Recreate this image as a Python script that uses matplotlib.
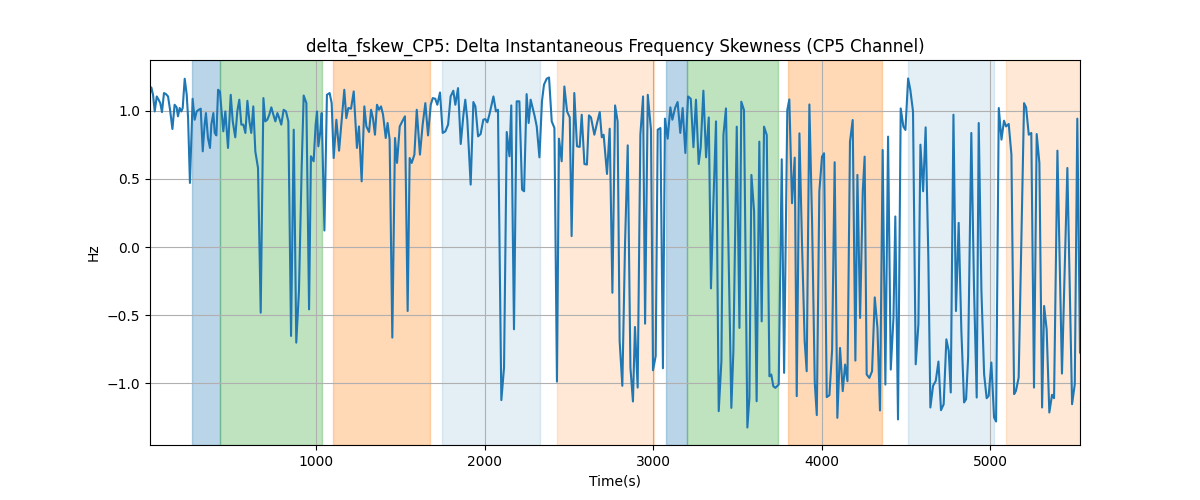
import matplotlib
matplotlib.use("Agg")
import matplotlib.pyplot as plt

time_s = [
    13, 21, 31, 41, 53, 64, 74, 84, 96, 108, 120, 132, 146, 159, 171, 179, 189, 199, 207, 219,
    231, 239, 250, 266, 278, 290, 302, 314, 326, 337, 345, 357, 369, 377, 389, 397, 407, 417, 428, 436,
    448, 460, 476, 492, 504, 519, 531, 543, 555, 567, 579, 591, 603, 614, 626, 638, 654, 670, 686, 697,
    709, 721, 733, 745, 757, 769, 780, 792,
    806, 820, 834, 850, 866, 881, 897, 913, 925, 941, 957, 968, 984, 996, 1004, 1012, 1024, 1032, 1048, 1063,
    1079, 1091, 1103, 1119, 1135, 1150, 1166, 1178, 1190, 1206, 1222, 1241, 1253, 1269, 1285, 1297, 1313, 1325, 1336, 1348,
    1360, 1372, 1384, 1396, 1412, 1423, 1435, 1451, 1467, 1479, 1495, 1510, 1526, 1542, 1554, 1566, 1582,
    1596, 1615, 1631, 1647, 1663, 1679, 1691, 1706, 1718, 1734, 1750, 1766, 1782, 1797, 1813, 1825, 1841, 1857, 1873, 1884,
    1896, 1916, 1932, 1944, 1960, 1975, 1991, 2003, 2015, 2027, 2051, 2066, 2078, 2098, 2114, 2130, 2146, 2157, 2173, 2189,
    2205, 2221, 2233, 2248, 2260, 2272, 2284, 2296, 2308, 2324, 2339, 2351, 2367,
    2381, 2397, 2413, 2428, 2440, 2456, 2472, 2488, 2504, 2515, 2531, 2547, 2563, 2575, 2591, 2606, 2618, 2630, 2650, 2666,
    2682, 2694, 2705, 2725, 2741, 2757, 2773, 2788, 2800, 2816, 2832, 2848, 2864, 2879, 2891, 2907, 2923, 2939, 2951, 2967,
    2986, 2998, 3014, 3026, 3042, 3057, 3069, 3085, 3101, 3113, 3129, 3144, 3160,
    3174, 3190, 3206, 3222, 3238, 3253, 3269, 3281, 3297, 3313, 3329, 3342, 3356, 3372, 3388, 3404, 3416, 3431, 3463, 3475,
    3495, 3511, 3522, 3538, 3558, 3570, 3582, 3598, 3613, 3629, 3643, 3657, 3673, 3689, 3700, 3712, 3724, 3744, 3762, 3776,
    3795, 3807, 3823, 3839, 3851, 3867, 3882, 3898, 3910, 3926, 3942,
    3958, 3970, 3985, 4001, 4013, 4029, 4045, 4061, 4076, 4092, 4108, 4124, 4138, 4152, 4167, 4183, 4199, 4211, 4227, 4243,
    4254, 4266, 4282, 4298, 4314, 4330, 4345, 4361, 4377, 4393, 4409, 4425, 4436, 4452, 4468, 4484, 4496, 4512, 4525, 4541,
    4557, 4573, 4585, 4601, 4616, 4632, 4644, 4660, 4676, 4692, 4707, 4723, 4739,
    4753, 4765, 4781, 4796, 4812, 4828, 4844, 4856, 4868, 4887, 4903, 4919, 4931, 4947, 4963, 4978, 4990, 5006, 5022, 5034,
    5050, 5066, 5081, 5093, 5109, 5125, 5141, 5152, 5168, 5200, 5212, 5228, 5243, 5259, 5275, 5291, 5307, 5319, 5334, 5350,
    5366, 5378, 5398, 5425, 5457, 5485, 5501, 5516, 5532,
]

skew_hz = [
    1.13, 1.172, 1.118, 0.996, 1.106, 1.082, 1.057, 0.991, 1.131, 1.123, 1.106, 1.008, 0.867, 1.045, 1.026, 0.960, 1.021, 0.996, 1.021, 1.236,
    1.118, 0.947, 0.471, 1.089, 0.935, 0.996, 1.008, 1.016, 0.703, 0.899, 0.984, 0.801, 0.728, 0.899, 0.984, 0.838, 0.820, 1.155, 1.143, 1.021,
    0.850, 0.996, 0.728, 1.118, 0.923, 0.806, 0.996, 1.082, 0.899, 0.899, 0.838, 1.074, 0.923, 0.838, 1.033, 0.703, 0.581, -0.481, 1.094, 0.923,
    0.935, 0.972, 1.026, 0.972, 0.923, 0.984, 0.947, 0.899,
    1.008, 0.996, 0.923, -0.652, 0.862, -0.701, -0.322, 0.581, 1.113, 1.057, -0.457, 0.667, 0.630, 0.899, 0.996, 0.740, 0.850, 0.984, 0.122, 1.118,
    1.131, 1.057, 0.654, 0.935, 0.708, 0.923, 1.155, 0.947, 1.021, 1.016, 1.143, 0.728, 0.886, 0.483, 1.033, 0.886, 0.845, 1.008, 0.947, 0.825,
    1.045, 1.008, 1.033, 0.972, 0.801, 0.911, 0.789, -0.664, 0.801, 0.618, 0.886, 0.923, 0.960, -0.469, 0.654, 0.618, 0.679,
    1.008, 0.679, 0.899, 1.057, 0.820, 1.045, 1.094, 1.089, 1.045, 1.135, 0.838, 0.850, 0.899, 1.106, 1.148, 1.045, 1.167, 0.757, 0.972, 1.082,
    0.935, 0.459, 1.065, 1.033, 0.813, 0.830, 0.935, 0.940, 0.916, 0.972, 1.106, 0.996, 1.008, -1.123, -0.884, 0.845, 0.667, 1.040, -0.603, 1.070,
    1.070, 0.422, 0.410, 1.123, 0.911, 1.082, 1.021, 0.960, 0.886, 0.659, 1.070, 1.192, 1.236,
    1.245, 0.923, 0.874, -0.987, 0.796, 0.630, 1.179, 0.996, 0.952, 0.081, 1.131, 0.740, 0.735, 0.972, 0.610, 0.606, 0.967, 0.952, 0.825, 0.911,
    0.991, 0.806, 0.825, 0.537, 0.869, -0.335, 1.040, 0.923, -0.689, -1.018, 0.020, 0.747, -0.884, -1.133, -0.586, -1.031, 0.825, 1.106, -0.562, 1.118,
    0.862, -0.904, -0.799, 0.862, 0.874, -0.889, 0.943, 0.796, 1.026, 0.935, 1.021, 1.065, 0.838,
    1.021, 0.691, 1.106, 1.089, 0.733, 1.082, 0.610, 0.733, 1.148, 0.659, 0.952, -0.303, 0.310, 0.923, -1.204, -0.835, 0.823, 1.018, -1.180, -0.762,
    0.884, -0.593, 1.067, 1.006, -1.324, -1.106, 0.530, 0.261, -1.131, 0.774, -0.545, 0.884, 0.823, -0.948, -0.935, -1.021, -1.033, -1.009, 0.645, -0.923,
    1.006, 1.084, 0.322, 0.657, -1.094, 0.835, 0.041, -0.691, -0.911, 1.047, 0.188,
    -0.996, -1.233, 0.408, 0.664, 0.689, -1.101, -1.087, -0.752, 0.623, -1.253, -0.740, -1.057, -0.862, -0.984, 0.774, 0.933, -0.833, 0.530, -0.520, 0.413,
    0.664, -0.935, -0.960, -0.911, -0.369, -0.593, -1.199, 0.713, -1.009, 0.811, -0.899, -0.520, 0.225, -1.265, 1.018, 0.884, 0.860, 1.238, 1.155, 0.996,
    -0.860, -0.567, 0.752, 0.410, 0.879, -0.078, -1.177, -1.018, -0.982, -0.840, -1.197, -1.153, -0.677,
    -0.762, -1.067, 0.972, -0.469, 0.178, -0.616, -1.140, -1.116, -0.811, 0.838, -0.298, -1.104, 0.911, -0.322, -0.933, -1.109, -1.092, -0.847, -1.250, -1.280,
    1.021, 0.789, 0.928, 0.886, 0.904, 0.679, -1.079, -1.055, -0.957, 1.057, 1.026, 0.825, 0.838, -1.031, 0.830, 0.618, -1.177, -0.432, -0.603, -1.214,
    -1.084, -1.109, 0.708, -0.928, 0.581, -1.153, -1.006, 0.943, -0.774,
]

span_starts = [263, 430, 1099, 1748, 2428, 3075, 3198, 3800, 4512, 5093]
span_ends = [430, 1032, 1673, 2328, 3004, 3198, 3738, 4355, 5020, 5532]
span_colors = ["C0", "C2", "C1", "C0", "C1", "C0", "C2", "C1", "C0", "C1"]
span_alphas = [0.3, 0.3, 0.3, 0.12, 0.17, 0.3, 0.3, 0.3, 0.12, 0.17]

fig, ax = plt.subplots(figsize=(12, 5), dpi=100)
for s, e, c, a in zip(span_starts, span_ends, span_colors, span_alphas):
    ax.axvspan(s, e, color=c, alpha=a)
ax.plot(time_s, skew_hz, color="C0", lw=1.5)
ax.set_xlim(time_s[0], time_s[-1])
ax.grid(True)
ax.set_title("delta_fskew_CP5: Delta Instantaneous Frequency Skewness (CP5 Channel)")
ax.set_xlabel("Time(s)")
ax.set_ylabel("Hz")
fig.savefig("out.png")
